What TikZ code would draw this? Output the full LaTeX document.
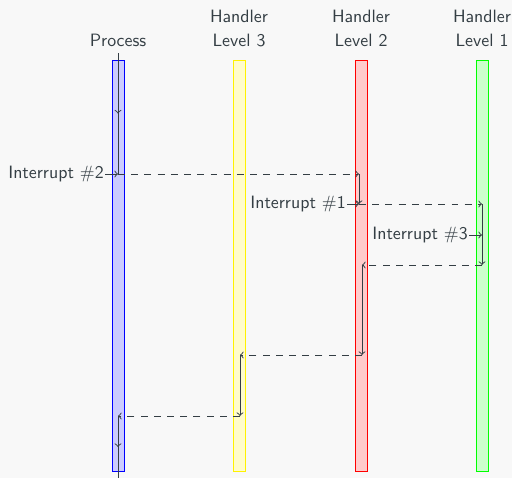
\documentclass[tikz,border=0pt]{standalone}
\usetikzlibrary{decorations.markings}
\definecolor{txt}{RGB}{52,62,68}
\definecolor{bg}{RGB}{248,248,248}
\begin{document}
\begin{tikzpicture}[x=0.56pt,y=-0.56pt,font=\sffamily,
  every node/.style={text=txt},
  bar/.style={minimum width=6.72pt,minimum height=230.16pt,inner sep=0pt,line width=0.5pt},
  flow/.style={draw=txt,->,line width=0.5pt},
  dflow/.style={draw=txt,->,line width=0.5pt,dash pattern=on 3.9pt off 3.5pt},
  midarrow/.style={draw=txt,line width=0.5pt,postaction={decorate},decoration={markings,mark=at position 0.5 with {\arrow{>}}}},
  lbl/.style={anchor=east,inner sep=0.5pt},
  head/.style={anchor=base}]
\fill[bg] (0,0) rectangle (512,478);
\useasboundingbox (0,0) rectangle (512,478);
% headers
\node[head] (hp) at (118,46) {Process};
\node[head] (h3a) at (239,22.3) {Handler};
\node[head] (h3b) at (239,46) {Level 3};
\node[head] (h2a) at (361,22.3) {Handler};
\node[head] (h2b) at (361,46) {Level 2};
\node[head] (h1a) at (482,22.3) {Handler};
\node[head] (h1b) at (482,46) {Level 1};
% bars
\node[bar,draw=blue,fill=blue!20] (bp) at (118,265.5) {};
\node[bar,draw=yellow,fill=yellow!20] (b3) at (239,265.5) {};
\node[bar,draw=red,fill=red!20] (b2) at (361,265.5) {};
\node[bar,draw=green,fill=green!20] (b1) at (482,265.5) {};
% event points
\coordinate (ps) at (118,53);
\coordinate (p1) at (118,174);
\coordinate (r1) at (359,174);
\coordinate (r2) at (359,204);
\coordinate (g1) at (482,204);
\coordinate (g3) at (482,235);
\coordinate (g2) at (482,265);
\coordinate (r3) at (362,265);
\coordinate (r4) at (362,355);
\coordinate (y1) at (240,355);
\coordinate (y2) at (240,416);
\coordinate (p2) at (118,416);
\coordinate (pe) at (118,478);
% execution flow
\draw[midarrow] (ps) -- (p1);
\draw[dflow] (p1) -- (r1);
\draw[flow] (r1) -- (r2);
\draw[dflow] (r2) -- (g1);
\draw[flow] (g1) -- (g2);
\draw[dflow] (g2) -- (r3);
\draw[flow] (r3) -- (r4);
\draw[dflow] (r4) -- (y1);
\draw[flow] (y1) -- (y2);
\draw[dflow] (y2) -- (p2);
\draw[midarrow] (p2) -- (pe);
% interrupts
\node[lbl] (i2) at (105,174) {Interrupt \#2};
\node[lbl] (i1) at (347,204) {Interrupt \#1};
\node[lbl] (i3) at (469,235) {Interrupt \#3};
\draw[flow] (i2.east) -- (p1);
\draw[flow] (i1.east) -- (r2);
\draw[flow] (i3.east) -- (g3);
\end{tikzpicture}
\end{document}
